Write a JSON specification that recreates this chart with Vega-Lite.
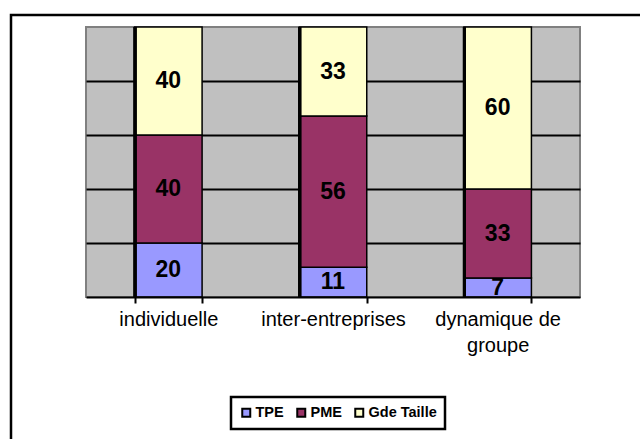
{
  "$schema": "https://vega.github.io/schema/vega-lite/v6.json",
  "autosize": {"type": "none"},
  "width": 494,
  "height": 270,
  "padding": {"left": 86, "top": 27, "right": 60, "bottom": 142},
  "background": "white",
  "config": {
    "view": {"fill": "#C0C0C0", "stroke": "#808080", "strokeWidth": 2},
    "font": "Liberation Sans",
    "legend": {"strokeWidth": 2.5}
  },
  "data": {
    "values": [
      {"type": "individuelle", "serie": "TPE", "pct": 20},
      {"type": "individuelle", "serie": "PME", "pct": 40},
      {"type": "individuelle", "serie": "Gde Taille", "pct": 40},
      {"type": "inter-entreprises", "serie": "TPE", "pct": 11},
      {"type": "inter-entreprises", "serie": "PME", "pct": 56},
      {"type": "inter-entreprises", "serie": "Gde Taille", "pct": 33},
      {"type": "dynamique de groupe", "serie": "TPE", "pct": 7},
      {"type": "dynamique de groupe", "serie": "PME", "pct": 33},
      {"type": "dynamique de groupe", "serie": "Gde Taille", "pct": 60}
    ]
  },
  "layer": [
    {
      "mark": {"type": "bar", "stroke": "black", "strokeWidth": 1.5},
      "encoding": {
        "x": {
          "field": "type", "type": "nominal",
          "sort": ["individuelle", "inter-entreprises", "dynamique de groupe"],
          "scale": {"paddingInner": 0.59, "paddingOuter": 0.295},
          "axis": {
            "title": null, "labelAngle": 0, "zindex": 1,
            "domainColor": "black", "domainWidth": 2,
            "tickColor": "black", "tickWidth": 2, "tickSize": 6, "tickBand": "extent",
            "labelFont": "Liberation Sans", "labelFontSize": 20, "labelColor": "black",
            "labelPadding": 6, "labelLimit": 300, "labelLineHeight": 26,
            "labelExpr": "datum.label == 'dynamique de groupe' ? ['dynamique de', 'groupe'] : datum.label"
          }
        },
        "y": {
          "field": "pct", "type": "quantitative", "stack": "zero",
          "scale": {"domain": [0, 100], "nice": false},
          "axis": {
            "title": null, "labels": false, "ticks": false, "domain": false,
            "grid": true, "gridColor": "black", "gridWidth": 2, "values": [20, 40, 60, 80]
          }
        },
        "color": {
          "field": "serie", "type": "nominal",
          "scale": {"domain": ["TPE", "PME", "Gde Taille"], "range": ["#9999FF", "#993366", "#FFFFCC"]},
          "legend": {
            "title": null, "orient": "none", "legendX": 145, "legendY": 370,
            "direction": "horizontal", "strokeColor": "black",
            "padding": 8, "fillColor": "white", "symbolType": "square", "symbolSize": 64,
            "symbolStrokeColor": "black", "symbolStrokeWidth": 2,
            "labelFont": "Liberation Sans", "labelFontWeight": "bold", "labelFontSize": 14.5,
            "labelColor": "black", "columnPadding": 9, "labelOffset": 2
          }
        },
        "order": {"field": "serie", "sort": "descending"}
      }
    },
    {
      "mark": {"type": "rule", "strokeWidth": 3, "color": "black", "xOffset": 0.5},
      "encoding": {
        "x": {"field": "type", "type": "nominal", "sort": ["individuelle", "inter-entreprises", "dynamique de groupe"], "bandPosition": 0},
        "y": {"datum": 0},
        "y2": {"datum": 100}
      }
    },
    {
      "mark": {"type": "text", "fontWeight": "bold", "fontSize": 23, "font": "Liberation Sans", "color": "black", "baseline": "middle"},
      "encoding": {
        "x": {"field": "type", "type": "nominal", "sort": ["individuelle", "inter-entreprises", "dynamique de groupe"]},
        "y": {"field": "pct", "type": "quantitative", "stack": "zero", "bandPosition": 0.5},
        "detail": {"field": "serie"},
        "order": {"field": "serie", "sort": "descending"},
        "text": {"field": "pct", "type": "quantitative"}
      }
    },
    {
      "mark": {"type": "point", "opacity": 0},
      "encoding": {
        "x": {"field": "type", "type": "nominal", "sort": ["individuelle", "inter-entreprises", "dynamique de groupe"]},
        "shape": {
          "datum": "cadre",
          "legend": {
            "title": null, "orient": "none", "legendX": -75, "legendY": -12,
            "padding": 340, "strokeColor": "black",
            "symbolOpacity": 0, "labelOpacity": 0, "symbolSize": 1, "labelFontSize": 1,
            "labelExpr": "''"
          }
        }
      }
    }
  ]
}
